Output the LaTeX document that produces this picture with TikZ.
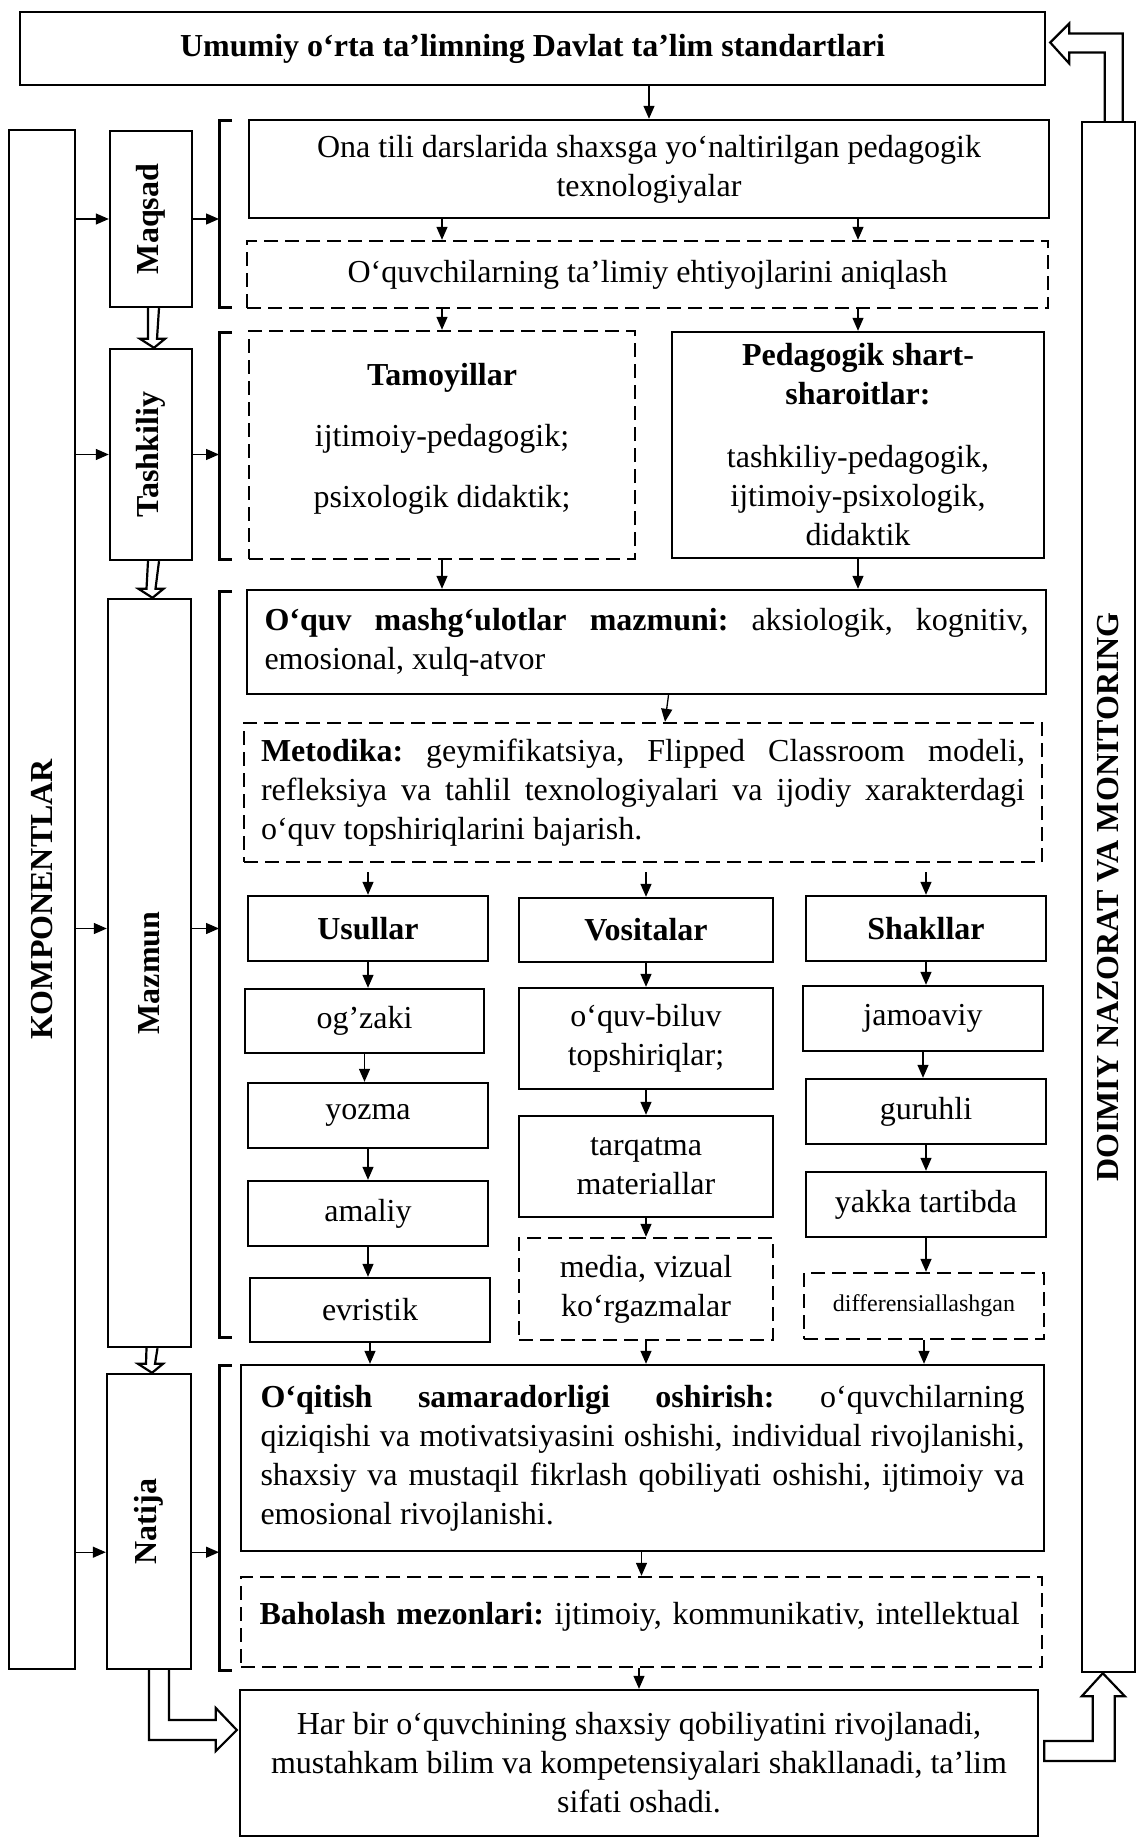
\documentclass[tikz,border=0pt]{standalone}
\usepackage{fontspec}
\usepackage{graphicx}
\setmainfont{Liberation Serif}
\usetikzlibrary{arrows.meta,calc}

\newcommand\mainsize{\fontsize{32}{39}\selectfont}
\newcommand\smallsize{\fontsize{24}{29}\selectfont}
\frenchspacing

\tikzset{
  box/.style={draw, line width=2.4pt, inner sep=0pt, align=center},
  dbox/.style={box, dash pattern=on 14pt off 7pt},
  bold/.style={font=\mainsize\bfseries},
  vbox/.style={box, bold},
  wide/.style={text width=764pt, align=justify},
  arr/.style={line width=1.3pt, -{Triangle[length=13pt,width=11pt]}},
  brk/.style={line width=3pt},
  hollow/.style={line width=2.2pt, line join=miter},
}

\begin{document}
\begin{tikzpicture}[x=1pt, y=-1pt, font=\mainsize]
\useasboundingbox (0,0) rectangle (1137,1838);

% top and the two side columns
\node[box, bold, minimum width=1025, minimum height=73] (top) at (532.5,48.5)
  {Umumiy o‘rta ta’limning Davlat ta’lim standartlari};
\node[vbox, minimum width=66, minimum height=1539] (komp) at (42,899.5)
  {\rotatebox{90}{KOMPONENTLAR}};
\node[vbox, minimum width=53, minimum height=1550] (doimiy) at (1108.5,897)
  {\rotatebox{90}{DOIMIY NAZORAT VA MONITORING}};

% components
\node[vbox, minimum width=82, minimum height=176] (maqsad) at (151,219) {\rotatebox{90}{Maqsad}};
\node[vbox, minimum width=82, minimum height=211] (tashkiliy) at (151,454.5) {\rotatebox{90}{Tashkiliy}};
\node[vbox, minimum width=83, minimum height=748] (mazmun) at (149.5,973) {\rotatebox{90}{Mazmun}};
\node[vbox, minimum width=84, minimum height=295] (natija) at (149,1521.5) {\rotatebox{90}{Natija}};

% Maqsad
\node[box, minimum width=800, minimum height=98] (ona) at (649,169)
  {Ona tili darslarida shaxsga yo‘naltirilgan pedagogik\\ texnologiyalar};
\node[dbox, minimum width=801, minimum height=67] (ehti) at (647.5,274.5)
  {O‘quvchilarning ta’limiy ehtiyojlarini aniqlash};

% Tashkiliy
\node[dbox, minimum width=386, minimum height=228] (tamoy) at (442,445)
  {\textbf{Tamoyillar}\\[22pt] ijtimoiy-pedagogik;\\[22pt] psixologik didaktik;\\[-20pt]\mbox{}};
\node[box, minimum width=372, minimum height=226] (shart) at (858,445)
  {\textbf{Pedagogik shart-}\\ \textbf{sharoitlar:}\\[24pt] tashkiliy-pedagogik,\\ ijtimoiy-psixologik,\\ didaktik};

% Mazmun
\node[box, wide, minimum width=799, minimum height=104] (oquv) at (646.5,642)
  {\textbf{O‘quv mashg‘ulotlar mazmuni:} aksiologik, kognitiv,\linebreak emosional, xulq-atvor};
\node[dbox, wide, minimum width=798, minimum height=139] (metod) at (643,792.5)
  {\textbf{Metodika:} geymifikatsiya, Flipped Classroom modeli,\linebreak refleksiya va tahlil texnologiyalari va ijodiy xarakterdagi\linebreak o‘quv topshiriqlarini bajarish.};

\node[box, bold, minimum width=240, minimum height=65] (usul) at (368,928.5) {Usullar};
\node[box, bold, minimum width=254, minimum height=64] (vosit) at (646,930) {Vositalar};
\node[box, bold, minimum width=240, minimum height=65] (shakl) at (926,928.5) {Shakllar};

\node[box, minimum width=239, minimum height=64] (ogz) at (364.5,1021) {og’zaki};
\node[box, minimum width=240, minimum height=65] (yozma) at (368,1115.5) {yozma};
\node[box, minimum width=240, minimum height=65] (amaliy) at (368,1213.5) {amaliy};
\node[box, minimum width=240, minimum height=64] (evrist) at (370,1310) {evristik};

\node[box, minimum width=254, minimum height=101] (biluv) at (646,1038.5) {o‘quv-biluv\\ topshiriqlar;};
\node[box, minimum width=254, minimum height=101] (tarqat) at (646,1166.5) {tarqatma\\ materiallar};
\node[dbox, minimum width=254, minimum height=102] (media) at (646,1289) {media, vizual\\ ko‘rgazmalar};

\node[box, minimum width=240, minimum height=65] (jamo) at (923,1018.5) {jamoaviy};
\node[box, minimum width=240, minimum height=65] (guruh) at (926,1111.5) {guruhli};
\node[box, minimum width=240, minimum height=65] (yakka) at (926,1204.5) {yakka tartibda};
\node[dbox, minimum width=240, minimum height=66, font=\smallsize] (differ) at (924,1306) {differensiallashgan};

% Natija
\node[box, wide, minimum width=803, minimum height=186] (oqit) at (642.5,1458)
  {\textbf{O‘qitish samaradorligi oshirish:} o‘quvchilarning\linebreak qiziqishi va motivatsiyasini oshishi, individual rivojlanishi,\linebreak shaxsiy va mustaqil fikrlash qobiliyati oshishi, ijtimoiy va\linebreak emosional rivojlanishi.};
\node[dbox, text width=764pt, align=left, minimum width=801, minimum height=90] (baho) at (641.5,1622)
  {\textbf{Baholash mezonlari:} ijtimoiy, kommunikativ, intellektual\\[-21pt]\mbox{}};
\node[box, minimum width=798, minimum height=146] (final) at (639,1763)
  {Har bir o‘quvchining shaxsiy qobiliyatini rivojlanadi,\\ mustahkam bilim va kompetensiyalari shakllanadi, ta’lim\\ sifati oshadi.};

% brackets
\coordinate (brkline) at (219,0);
\draw[brk] (232,121) -| (219,307) -- (232,307);
\draw[brk] (232,332) -| (219,559) -- (232,559);
\draw[brk] (232,591) -| (219,1337) -- (232,1337);
\draw[brk] (232,1365) -| (219,1670) -- (232,1670);

% arrows into and out of the components
\foreach \c in {maqsad, tashkiliy} {
  \draw[arr] (\c.west -| komp.east) -- (\c.west);
  \draw[arr] (\c.east) -- (\c.east -| brkline);
}
\draw[arr] (komp.east |- usul) -- (mazmun.west |- usul);
\draw[arr] (mazmun.east |- usul) -- (brkline |- usul);
\draw[arr] (komp.east |- oqit.south) -- (natija.west |- oqit.south);
\draw[arr] (natija.east |- oqit.south) -- (brkline |- oqit.south);

% hollow arrows between components
\foreach \a/\b in {maqsad/tashkiliy, tashkiliy/mazmun, mazmun/natija}
  \draw[hollow] ($(\a.south)+(-3,0)$) -- ($(\b.north)+(-3,-9)$) -- ++(-8,0) -- ($(\b.north)+(3,0)$)
    -- ++(11,-9) -- ++(-8,0) -- ($(\a.south)+(8,0)$);

% main flow
\draw[arr] (ona.north |- top.south) -- (ona.north);
\foreach \c in {tamoy, shart} {
  \draw[arr] (ona.south -| \c) -- (ehti.north -| \c);
  \draw[arr] (ehti.south -| \c) -- (\c.north);
  \draw[arr] (\c.south) -- (\c.south |- oquv.north);
}
\draw[arr] ([xshift=22pt]oquv.south) -- ([xshift=22pt]metod.north);
\foreach \b in {usul, vosit, shakl}
  \draw[arr, shorten <=9pt] (metod.south -| \b.north) -- (\b.north);
\foreach \a/\b in {usul/ogz, ogz/yozma, yozma/amaliy, amaliy/evrist,
                   vosit/biluv, biluv/tarqat, tarqat/media,
                   shakl/jamo, jamo/guruh, guruh/yakka, yakka/differ}
  \draw[arr] (\a.south) -- (\a.south |- \b.north);
\foreach \a in {evrist, media, differ}
  \draw[arr] (\a.south) -- (\a.south |- oqit.north);
\draw[arr] (oqit.south -| baho) -- (baho.north);
\draw[arr] (baho.south -| final) -- (final.north);

% big hollow arrows
\coordinate (hN) at ($(final.west)+(-2,-33)$);
\draw[hollow] ($(natija.south)+(20,0)$) |- ($(hN)+(-21,-10)$) -- ++(0,-12) -- (hN)
  -- ++(-21,21) -- ++(0,-11) -| (natija.south);
\coordinate (hB) at ($(doimiy.south west)+(22,0)$);
\draw[hollow] ($(final.east)+(5,-22)$) -| ($(hB)+(-10,23)$) -- ++(-11,0) -- (hB)
  -- ++(22,23) -- ++(-10,0) |- ($(final.east)+(5,-2)$) -- cycle;
\coordinate (hT) at ($(top.east)+(4,-6)$);
\draw[hollow] ($(doimiy.north west)+(42,0)$) |- ($(hT)+(19,-9)$) -- ++(0,-10) -- (hT)
  -- ++(19,21) -- ++(0,-11) -| ($(doimiy.north west)+(24,0)$);
\end{tikzpicture}
\end{document}
